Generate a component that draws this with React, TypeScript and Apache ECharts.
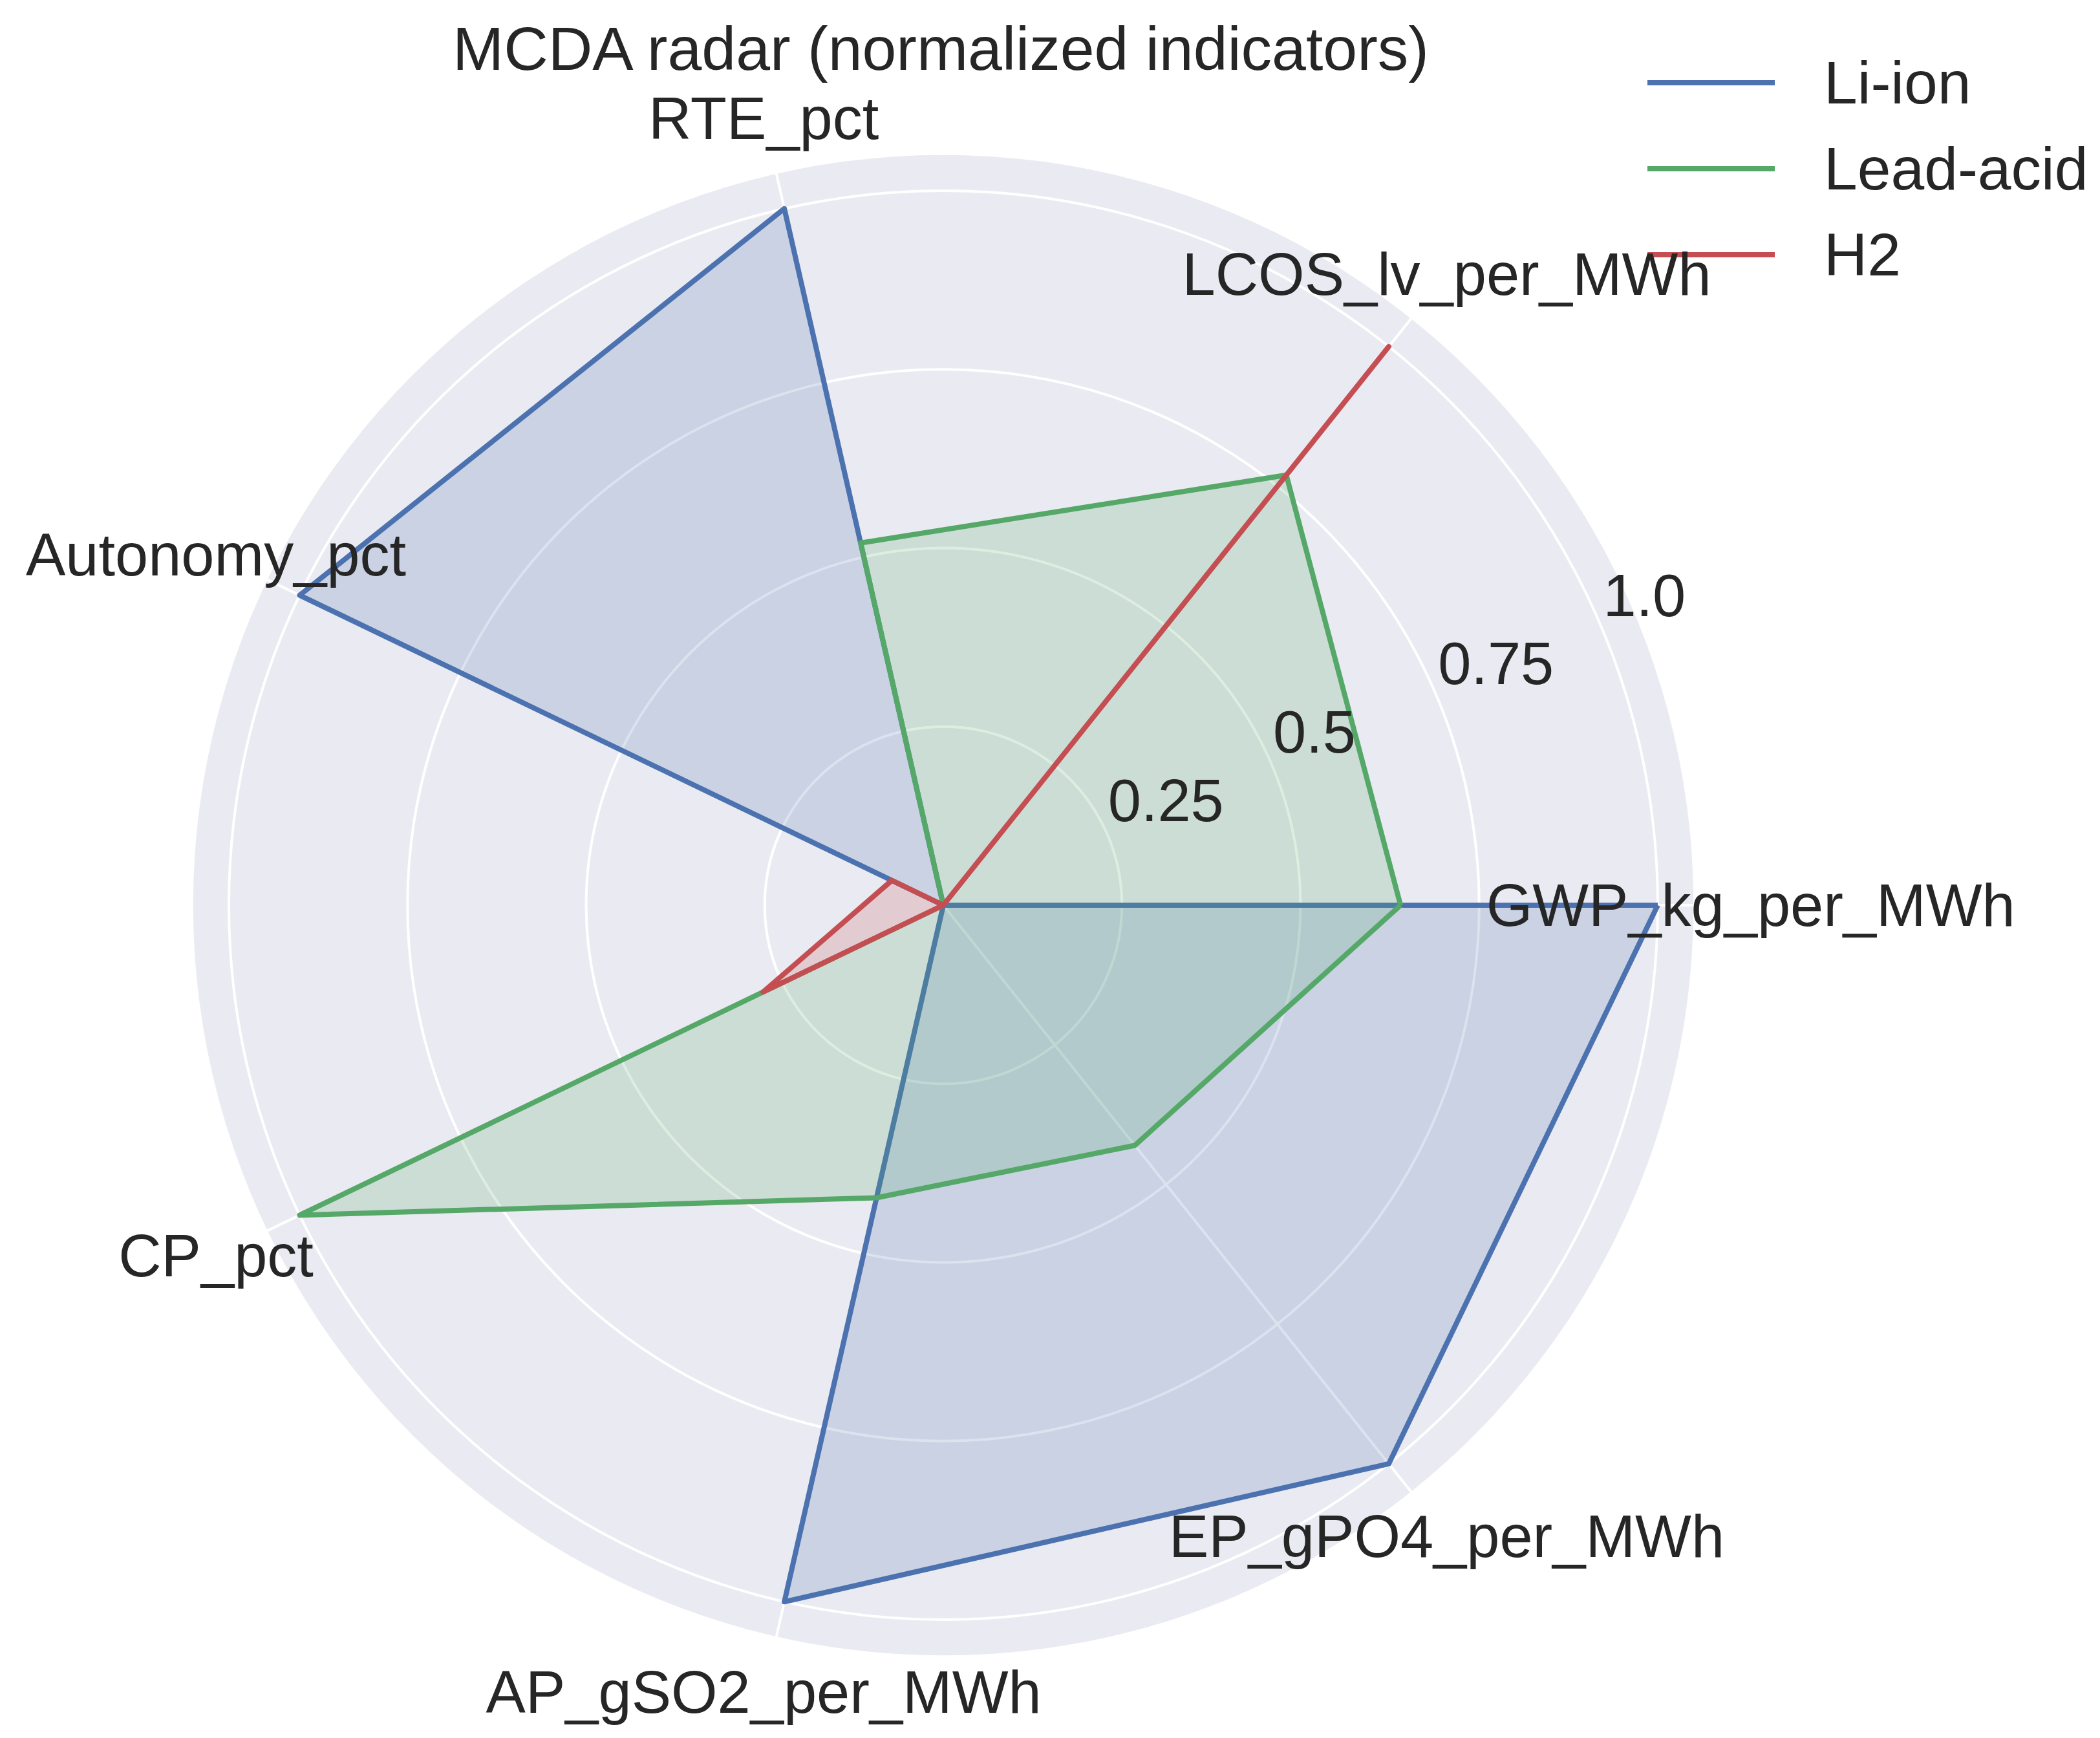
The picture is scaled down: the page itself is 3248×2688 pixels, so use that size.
import React, { useEffect, useRef } from "react";
import * as echarts from "echarts";

const categories = [
  "GWP_kg_per_MWh",
  "LCOS_lv_per_MWh",
  "RTE_pct",
  "Autonomy_pct",
  "CP_pct",
  "AP_gSO2_per_MWh",
  "EP_gPO4_per_MWh",
];
const seriesNames = ["Li-ion", "Lead-acid", "H2"];
const liIon = [1.0, 0.0, 1.0, 1.0, 0.0, 1.0, 1.0];
const leadAcid = [0.64, 0.77, 0.52, 0.0, 1.0, 0.42, 0.43];
const h2 = [0.0, 1.0, 0.0, 0.08, 0.28, 0.0, 0.0];
const tickValues = [0.25, 0.5, 0.75, 1.0];
const tickLabels = ["0.25", "0.5", "0.75", "1.0"];
const tickAngle = 22.5;
const colors = ["#4C72B0", "#55A868", "#C44E52"];
const titleText = "MCDA radar (normalized indicators)";

const CX = 1459;
const CY = 1400;
const R1 = 1105; // pixel radius of value 1.0
const RMAX = 1.05;
const POLAR_MAX = 1.2;
const LABEL_R = 1.13;
const FONT = "'Liberation Sans', Arial, Helvetica, sans-serif";
const TEXT = "#262626";

export default function App() {
  const ref = useRef<HTMLDivElement>(null);
  useEffect(() => {
    if (!ref.current) return;
    const chart = echarts.init(ref.current, undefined, { renderer: "svg" });
    const values = [liIon, leadAcid, h2];
    const option: any = {
      animation: false,
      backgroundColor: "#ffffff",
      title: {
        text: titleText,
        left: 695,
        top: 22,
        textStyle: { fontSize: 95, fontWeight: "normal", color: TEXT, fontFamily: FONT },
      },
      legend: {
        data: seriesNames,
        orient: "vertical",
        left: 2543,
        top: 73,
        icon: "rect",
        itemWidth: 197,
        itemHeight: 8,
        itemGap: 33,
        selectedMode: false,
        textStyle: {
          fontSize: 93,
          lineHeight: 100,
          color: TEXT,
          fontFamily: FONT,
          padding: [0, 0, 0, 71],
        },
      },
      radar: {
        center: [CX, CY],
        radius: R1 * RMAX,
        startAngle: 0,
        shape: "circle",
        splitNumber: 1,
        z: 1,
        indicator: categories.map((name) => ({ name, min: 0, max: RMAX })),
        axisName: { show: false },
        axisLine: { show: true, lineStyle: { color: "#ffffff", width: 4 } },
        axisTick: { show: false },
        axisLabel: { show: false },
        splitLine: { show: false },
        splitArea: { show: true, areaStyle: { color: ["#EAEAF2"] } },
      },
      polar: { center: [CX, CY], radius: R1 * POLAR_MAX },
      angleAxis: {
        type: "value",
        min: 0,
        max: 360,
        startAngle: 0,
        clockwise: false,
        show: false,
      },
      radiusAxis: {
        type: "value",
        min: 0,
        max: POLAR_MAX,
        interval: 0.25,
        z: 3,
        axisLine: { show: false },
        axisTick: { show: false },
        axisLabel: { show: false },
        splitLine: { show: true, lineStyle: { color: "#ffffff", width: 4 } },
      },
      series: [
        ...seriesNames.map((name, i) => ({
          type: "radar",
          name,
          radarIndex: 0,
          z: 5 + i,
          symbol: "none",
          silent: true,
          itemStyle: { color: colors[i] },
          lineStyle: { color: colors[i], width: 8 },
          areaStyle: { color: colors[i], opacity: 0.2 },
          data: [{ name, value: values[i] }],
        })),
        {
          type: "scatter",
          name: "categoryLabels",
          coordinateSystem: "polar",
          polarIndex: 0,
          symbolSize: 1,
          silent: true,
          z: 10,
          itemStyle: { color: "rgba(0,0,0,0)", opacity: 1 },
          data: categories.map((n, i) => ({
            name: n,
            value: [LABEL_R, (i * 360) / categories.length],
          })),
          label: {
            show: true,
            position: "inside",
            formatter: "{b}",
            fontSize: 92,
            color: TEXT,
            opacity: 1,
            fontFamily: FONT,
            align: "center",
            verticalAlign: "middle",
          },
        },
        {
          type: "scatter",
          name: "tickLabels",
          coordinateSystem: "polar",
          polarIndex: 0,
          symbolSize: 1,
          silent: true,
          z: 10,
          itemStyle: { color: "rgba(0,0,0,0)", opacity: 1 },
          data: tickValues.map((v, i) => ({ name: tickLabels[i], value: [v, tickAngle] })),
          label: {
            show: true,
            position: [0, -10],
            formatter: "{b}",
            fontSize: 92,
            lineHeight: 92,
            color: TEXT,
            opacity: 1,
            fontFamily: FONT,
            align: "left",
            verticalAlign: "bottom",
          },
        },
      ],
    };
    chart.setOption(option);
    return () => chart.dispose();
  }, []);
  return (
    <div
      ref={ref}
      style={{ position: "absolute", left: 0, top: 0, width: 3248, height: 2688 }}
    />
  );
}
